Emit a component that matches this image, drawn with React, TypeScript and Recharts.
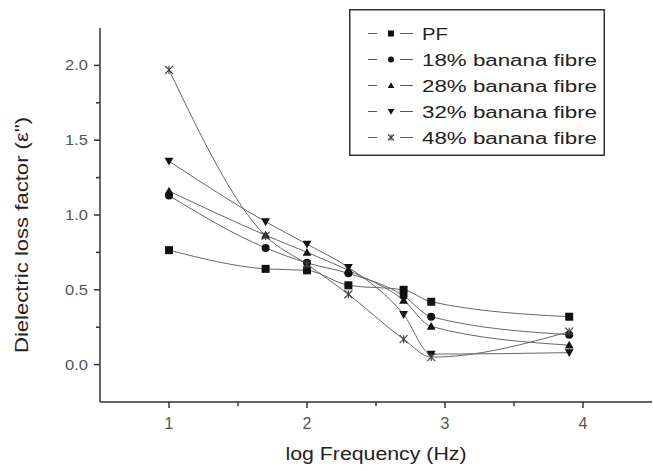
import React from 'react';
import { LineChart, Line, XAxis, YAxis, Legend } from 'recharts';

// log frequency positions of the measurements
const freq = [1, 1.7, 2, 2.3, 2.7, 2.9, 3.9];

// dielectric loss factor
const pf = [0.765, 0.64, 0.63, 0.53, 0.5, 0.42, 0.32];
const banana18 = [1.13, 0.78, 0.68, 0.61, 0.46, 0.32, 0.2];
const banana28 = [1.16, 0.865, 0.75, 0.63, 0.43, 0.255, 0.13];
const banana32 = [1.36, 0.955, 0.805, 0.65, 0.335, 0.07, 0.08];
const banana48 = [1.97, 0.86, 0.67, 0.47, 0.17, 0.05, 0.22];

const xTicks = [1, 1.5, 2, 2.5, 3, 3.5, 4];
const yTicks = [0, 0.25, 0.5, 0.75, 1, 1.25, 1.5, 1.75, 2];

const series = [
  { key: 'pf', name: 'PF', values: pf, shape: 'square' },
  { key: 'b18', name: '18% banana fibre', values: banana18, shape: 'circle' },
  { key: 'b28', name: '28% banana fibre', values: banana28, shape: 'up' },
  { key: 'b32', name: '32% banana fibre', values: banana32, shape: 'down' },
  { key: 'b48', name: '48% banana fibre', values: banana48, shape: 'star' },
];

const data = freq.map((f, i) => {
  const row: Record<string, number> = { freq: f };
  series.forEach((s) => {
    row[s.key] = s.values[i];
  });
  return row;
});

const FONT = '"Liberation Sans", Arial, sans-serif';
const AXIS = '#333';
const INK = '#111';

function Marker({ shape, cx, cy, size }: { shape: string; cx: number; cy: number; size: number }) {
  const r = size / 2;
  if (shape === 'square') return <rect x={cx - r} y={cy - r} width={size} height={size} fill={INK} />;
  if (shape === 'circle') return <circle cx={cx} cy={cy} r={r} fill={INK} />;
  if (shape === 'up')
    return (
      <polygon
        points={`${cx},${cy - r * 1.1} ${cx + r * 1.1},${cy + r * 0.85} ${cx - r * 1.1},${cy + r * 0.85}`}
        fill={INK}
      />
    );
  if (shape === 'down')
    return (
      <polygon
        points={`${cx},${cy + r * 1.1} ${cx + r * 1.1},${cy - r * 0.85} ${cx - r * 1.1},${cy - r * 0.85}`}
        fill={INK}
      />
    );
  return (
    <g stroke="#444" strokeWidth={1.2}>
      <line x1={cx - r} y1={cy - r} x2={cx + r} y2={cy + r} />
      <line x1={cx - r} y1={cy + r} x2={cx + r} y2={cy - r} />
      <line x1={cx} y1={cy - r} x2={cx} y2={cy + r} />
    </g>
  );
}

const XTick = ({ x, y, payload }: any) => {
  const major = Number.isInteger(payload.value);
  return (
    <g>
      <line x1={x} x2={x} y1={y} y2={y + (major ? 6 : 4)} stroke={AXIS} strokeWidth={1.5} />
      {major && (
        <text x={x} y={y + 27} textAnchor="middle" fontSize={16} fill="#555" fontFamily={FONT}>
          {payload.value}
        </text>
      )}
    </g>
  );
};

const YTick = ({ x, y, payload }: any) => {
  const major = Math.abs(payload.value * 2 - Math.round(payload.value * 2)) < 1e-6;
  return (
    <g>
      <line x1={x} x2={x - (major ? 6 : 4)} y1={y} y2={y} stroke={AXIS} strokeWidth={1.5} />
      {major && (
        <text
          x={x - 12}
          y={y + 5}
          textAnchor="end"
          fontSize={15}
          fill="#555"
          fontFamily={FONT}
          textLength={23}
          lengthAdjust="spacingAndGlyphs"
        >
          {payload.value.toFixed(1)}
        </text>
      )}
    </g>
  );
};

const renderLegend = (props: any) => {
  const order = series.map((s) => s.key);
  const items = [...(props.payload ?? [])].sort(
    (a: any, b: any) => order.indexOf(a.dataKey) - order.indexOf(b.dataKey)
  );
  return (
    <div style={{ width: 256, height: 147, background: '#fff' }}>
      <svg width={256} height={147}>
        <rect x={0.75} y={0.75} width={254.5} height={145.5} fill="#fff" stroke={AXIS} strokeWidth={1.5} />
        {items.map((item: any, i: number) => {
          const s = series.find((d) => d.key === item.dataKey);
          const cy = 24.5 + i * 26;
          return (
            <g key={item.dataKey}>
              <line x1={19} x2={28} y1={cy} y2={cy} stroke="#555" />
              <Marker shape={s ? s.shape : 'square'} cx={42} cy={cy} size={6} />
              <line x1={51} x2={64} y1={cy} y2={cy} stroke="#555" />
              <text
                x={73}
                y={cy + 6}
                fontSize={16}
                fill="#222"
                fontFamily={FONT}
                textLength={item.value === 'PF' ? 26 : 175}
                lengthAdjust="spacingAndGlyphs"
              >
                {item.value}
              </text>
            </g>
          );
        })}
      </svg>
    </div>
  );
};

export default function App() {
  return (
    <div style={{ position: 'absolute', left: 0, top: 0, background: '#fff' }}>
      <LineChart width={653} height={471} data={data} margin={{ top: 28, right: 1, bottom: 0, left: 0 }}>
        <XAxis
          xAxisId="main"
          dataKey="freq"
          type="number"
          domain={[0.5, 4.5]}
          ticks={xTicks}
          interval={0}
          height={69}
          tickSize={0}
          tickMargin={0}
          tickLine={false}
          axisLine={{ stroke: AXIS, strokeWidth: 1.5 }}
          tick={<XTick />}
          label={(p: any) => {
            const vb = p.viewBox;
            return (
              <text
                x={vb.x + vb.width / 2}
                y={vb.y + 58}
                textAnchor="middle"
                fontSize={18}
                fill="#222"
                fontFamily={FONT}
                textLength={181}
                lengthAdjust="spacingAndGlyphs"
              >
                log Frequency (Hz)
              </text>
            );
          }}
        />
        <XAxis
          xAxisId="top"
          orientation="top"
          type="number"
          domain={[0.5, 4.5]}
          height={0}
          tick={false}
          tickLine={false}
          axisLine={{ stroke: AXIS, strokeWidth: 1.5 }}
        />
        <YAxis
          yAxisId="left"
          type="number"
          domain={[-0.25, 2.25]}
          ticks={yTicks}
          interval={0}
          width={100}
          tickSize={0}
          tickMargin={0}
          tickLine={false}
          axisLine={{ stroke: AXIS, strokeWidth: 1.5 }}
          tick={<YTick />}
          label={(p: any) => {
            const vb = p.viewBox;
            const cx = vb.x + 22;
            const cy = vb.y + vb.height / 2 + 20;
            return (
              <text
                x={cx}
                y={cy}
                transform={`rotate(-90 ${cx} ${cy})`}
                textAnchor="middle"
                dominantBaseline="central"
                fontSize={18}
                fill="#222"
                fontFamily={FONT}
                textLength={236}
                lengthAdjust="spacingAndGlyphs"
              >
                Dielectric loss factor (ε")
              </text>
            );
          }}
        />
        <YAxis
          yAxisId="right"
          orientation="right"
          type="number"
          domain={[-0.25, 2.25]}
          width={0}
          tick={false}
          tickLine={false}
          axisLine={{ stroke: AXIS, strokeWidth: 1.5 }}
        />
        {series.map((s) => (
          <Line
            key={s.key}
            xAxisId="main"
            yAxisId="left"
            type="monotone"
            dataKey={s.key}
            name={s.name}
            stroke="#666"
            strokeWidth={1}
            isAnimationActive={false}
            dot={(p: any) => <Marker key={`${s.key}-${p.index}`} shape={s.shape} cx={p.cx} cy={p.cy} size={8} />}
            activeDot={false}
          />
        ))}
        <Legend
          layout="vertical"
          align="center"
          verticalAlign="middle"
          wrapperStyle={{ left: 349, top: 9, width: 256, height: 147 }}
          content={renderLegend}
        />
      </LineChart>
    </div>
  );
}
